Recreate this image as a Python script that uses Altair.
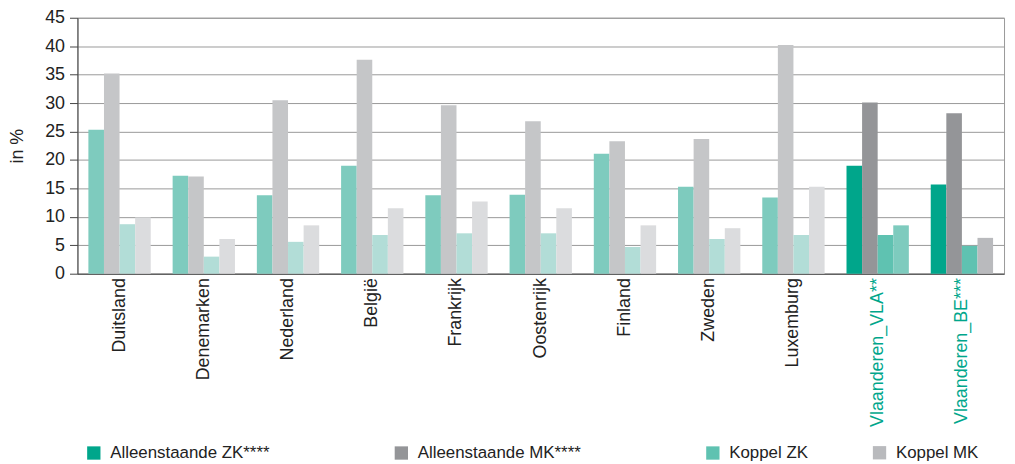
import altair as alt
import pandas as pd

countries = ["Duitsland", "Denemarken", "Nederland", "België", "Frankrijk", "Oostenrijk",
             "Finland", "Zweden", "Luxemburg", "Vlaanderen_VLA**", "Vlaanderen_BE***"]
series = ["Alleenstaande ZK****", "Alleenstaande MK****", "Koppel ZK", "Koppel MK"]

alleen_zk = [25.3, 17.2, 13.8, 19.0, 13.8, 13.9, 21.1, 15.3, 13.4, 19.0, 15.7]
alleen_mk = [35.2, 17.1, 30.5, 37.6, 29.6, 26.8, 23.3, 23.7, 40.2, 30.1, 28.2]
koppel_zk = [8.7, 3.0, 5.6, 6.8, 7.1, 7.1, 4.7, 6.1, 6.8, 6.8, 4.9]
koppel_mk = [9.9, 6.1, 8.5, 11.5, 12.7, 11.5, 8.5, 8.0, 15.3, 8.5, 6.3]

colors_regular = ["#7ecbbe", "#c5c6c8", "#b2ddd7", "#dbdcde"]
colors_vla = ["#00a68b", "#949598", "#5fc2b1", "#7ecbbe"]
colors_be = ["#00a68b", "#949598", "#5fc2b1", "#b9babd"]
legend_colors = ["#00a68b", "#949598", "#5fc2b1", "#b9babd"]

values = [alleen_zk, alleen_mk, koppel_zk, koppel_mk]
rows = []
for i, c in enumerate(countries):
    if c.startswith("Vlaanderen_VLA"):
        pal = colors_vla
    elif c.startswith("Vlaanderen_BE"):
        pal = colors_be
    else:
        pal = colors_regular
    for j, s in enumerate(series):
        rows.append({"country": c, "series": s, "value": values[j][i], "barcolor": pal[j]})
df = pd.DataFrame(rows)
legend_a = pd.DataFrame({"series": series[:3]})
legend_b = pd.DataFrame({"series2": series[3:]})

FONT = "Liberation Sans"

bars = alt.Chart(df).mark_bar().encode(
    x=alt.X("country:N", sort=countries,
            scale=alt.Scale(paddingInner=0.26, paddingOuter=0.13),
            axis=alt.Axis(title=None, labelAngle=-90, ticks=False, labelPadding=4,
                          labelFontSize=18, labelLimit=300, domainColor="#444",
                          labelColor={"condition": {"test": "indexof(datum.value, 'Vlaanderen') == 0",
                                                    "value": "#00a68b"},
                                      "value": "#222"})),
    xOffset=alt.XOffset("series:N", sort=series),
    y=alt.Y("value:Q", scale=alt.Scale(domain=[0, 45], nice=False),
            axis=alt.Axis(values=list(range(0, 50, 5)), title="in %", titleFontSize=18,
                          titleFontWeight="normal", titleColor="#222", titlePadding=18,
                          labelFontSize=18, labelColor="#222", labelPadding=5,
                          tickSize=8, tickColor="#444", domainColor="#444",
                          grid=True, gridColor="#999", gridWidth=1)),
    color=alt.Color("barcolor:N", scale=None),
)

def legend_props(x, pad):
    return dict(title=None, orient="none", legendX=x, legendY=430,
                direction="horizontal", columnPadding=pad,
                symbolType="square", symbolSize=180, symbolOpacity=1,
                symbolStrokeWidth=0, labelFontSize=17, labelColor="#222",
                labelLimit=400, labelOffset=8)

legend_layer_a = alt.Chart(legend_a).mark_square(opacity=0).encode(
    fill=alt.Fill("series:N",
                  scale=alt.Scale(domain=series[:3], range=legend_colors[:3]),
                  legend=alt.Legend(**legend_props(8, 124)))
)
legend_layer_b = alt.Chart(legend_b).mark_square(opacity=0).encode(
    fill=alt.Fill("series2:N",
                  scale=alt.Scale(domain=series[3:], range=legend_colors[3:]),
                  legend=alt.Legend(**legend_props(800, 10)))
)

chart = alt.layer(bars, legend_layer_a, legend_layer_b).resolve_scale(
    fill="independent"
).resolve_legend(fill="independent").properties(
    width=934, height=258,
    autosize=alt.AutoSizeParams(type="none"),
    padding={"left": 70, "top": 8, "right": 3, "bottom": 190},
).configure(font=FONT).configure_view(stroke="#999", strokeWidth=1)

chart.save("out.html", embed_options={"renderer": "svg", "actions": False})
